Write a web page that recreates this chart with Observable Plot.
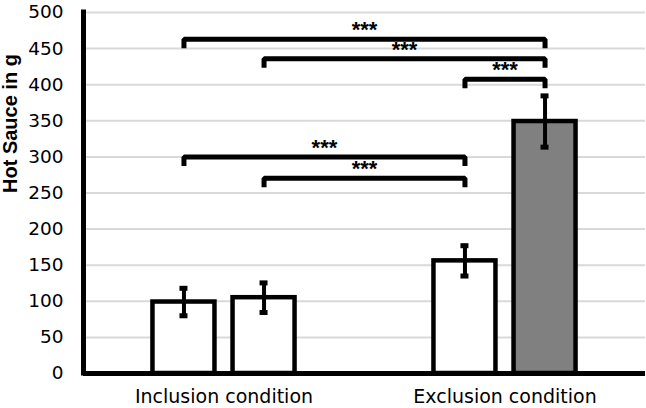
<!DOCTYPE html>
<html>
<head>
<meta charset="utf-8">
<script src="https://cdn.jsdelivr.net/npm/d3@7"></script>
<script src="https://cdn.jsdelivr.net/npm/@observablehq/plot@0.6"></script>
<style>
  html, body { margin: 0; padding: 0; background: #ffffff; }
  #chart { width: 646px; height: 408px; }
</style>
</head>
<body>
<div id="chart"></div>
<script>
// ---- data ----
const conditions = ["Inclusion condition", "Exclusion condition"];
const subgroups = ["Bar A", "Bar B"];
const means = [99, 105, 156, 349];          // order: Inclusion A, Inclusion B, Exclusion A, Exclusion B
const errors = [19, 20.5, 21, 35.5];
const yTicks = [0, 50, 100, 150, 200, 250, 300, 350, 400, 450, 500];
const yLabel = "Hot Sauce in g";
const compFrom = [0, 1, 2, 0, 1];
const compTo = [3, 3, 3, 2, 2];
const compLevel = [463, 436, 407.5, 300, 270.5];
const compLabel = ["***", "***", "***", "***", "***"];

// ---- layout helpers ----
const subSpacing = 0.285;   // distance between the two bars of a condition, in x units
const bracketDrop = 12.5;   // length of bracket end ticks, in y units

const bars = means.map((m, i) => {
  const g = Math.floor(i / 2), s = i % 2;
  return {condition: conditions[g], sub: subgroups[s], g, s, mean: m, err: errors[i],
          x: g + (s - 0.5) * subSpacing};
});

const bracketPts = [];
compFrom.forEach((f, k) => {
  const a = bars[f].x, b = bars[compTo[k]].x, lv = compLevel[k];
  bracketPts.push({k, x: a, y: lv - bracketDrop}, {k, x: a, y: lv}, {k, x: b, y: lv}, {k, x: b, y: lv - bracketDrop});
});
const stars = compFrom.map((f, k) => ({x: (bars[f].x + bars[compTo[k]].x) / 2, y: compLevel[k], label: compLabel[k]}));

const fillFor = d => (d.g === 1 && d.s === 1) ? "#808080" : "#ffffff";

const chart = Plot.plot({
  width: 646,
  height: 408,
  marginLeft: 83,
  marginRight: 1,
  marginTop: 12,
  marginBottom: 35,
  style: {background: "#ffffff", fontFamily: "DejaVu Sans", fontSize: "18.5px", color: "#000"},
  x: {domain: [-0.5, 1.5]},
  y: {domain: [0, 500]},
  marks: [
    Plot.ruleY(yTicks, {stroke: "#d9d9d9", strokeWidth: 2}),
    Plot.rect(bars, {x1: "x", x2: "x", y1: 0, y2: "mean", insetLeft: -31, insetRight: -31,
                     fill: fillFor, stroke: "#000", strokeWidth: 4.5}),
    Plot.ruleX(bars, {x: "x", y1: d => d.mean - d.err, y2: d => d.mean + d.err, stroke: "#000", strokeWidth: 4}),
    Plot.ruleY(bars, {y: d => d.mean + d.err, x1: "x", x2: "x", insetLeft: -4, insetRight: -4, stroke: "#000", strokeWidth: 5}),
    Plot.ruleY(bars, {y: d => d.mean - d.err, x1: "x", x2: "x", insetLeft: -4, insetRight: -4, stroke: "#000", strokeWidth: 5}),
    Plot.line(bracketPts, {x: "x", y: "y", z: "k", stroke: "#000", strokeWidth: 5,
                           strokeLinejoin: "miter", strokeLinecap: "butt"}),
    Plot.text(stars, {x: "x", y: "y", text: "label", dy: -9, fontSize: 22, fontWeight: "bold",
                      fontFamily: "Liberation Sans", fill: "#000", ariaLabel: "stars"}),
    Plot.ruleX([-0.5], {y1: 0, y2: 500, stroke: "#000", strokeWidth: 5, strokeLinecap: "square"}),
    Plot.ruleY([0], {stroke: "#000", strokeWidth: 5}),
    Plot.axisY({ticks: yTicks, tickSize: 0, tickPadding: 20, label: null, fontSize: 18.5}),
    Plot.axisX({ticks: [0, 1], tickFormat: i => conditions[i], tickSize: 0, tickPadding: 16, label: null, fontSize: 19}),
    Plot.text([yLabel], {frameAnchor: "left", dx: -73, rotate: -90, fontSize: 20, fontWeight: "bold",
                         fontFamily: "Liberation Sans", fill: "#000"})
  ]
});

const starG = chart.querySelector('g[aria-label="stars"]');
if (starG) starG.setAttribute("letter-spacing", "1.5");

document.getElementById("chart").appendChild(chart);
</script>
</body>
</html>
